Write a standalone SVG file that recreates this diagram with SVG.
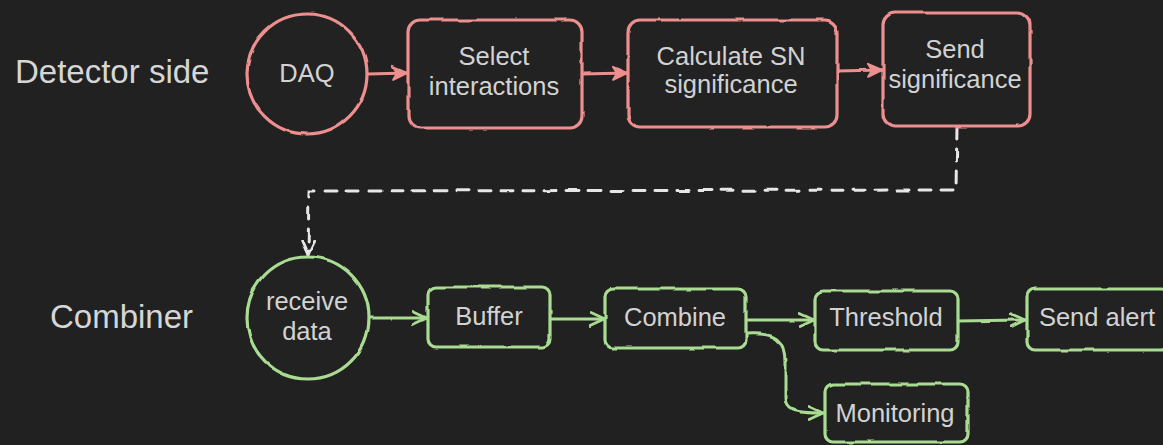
<svg xmlns="http://www.w3.org/2000/svg" width="1163" height="445" viewBox="0 0 1163 445">
  <defs>
    <style>
      .bg { fill: #212121; }
      .lane { font-family: "Liberation Sans", Arial, sans-serif; font-size: 33px; fill: #d6d6d6; }
      .lbl { font-family: "Liberation Sans", Arial, sans-serif; font-size: 25.5px; fill: #d2d2d2; text-anchor: middle; }
      .pink { fill: #212121; stroke: #ee8f8f; stroke-width: 3.2; }
      .green { fill: #212121; stroke: #a9dc92; stroke-width: 3.2; }
      .edge { fill: none; stroke-width: 3; stroke-linecap: round; stroke-linejoin: round; }
      .edge.p { stroke: #ee8f8f; marker-end: url(#ah-pink); }
      .edge.g { stroke: #a9dc92; marker-end: url(#ah-green); }
      .edge.w { stroke: #e6e6e6; stroke-dasharray: 12 10; marker-end: url(#ah-white); }
    </style>
    <!-- slight wobble for a hand-drawn stroke -->
    <filter id="rough" filterUnits="userSpaceOnUse" x="0" y="0" width="1163" height="445">
      <feTurbulence type="fractalNoise" baseFrequency="0.04" numOctaves="2" seed="3" result="n"/>
      <feDisplacementMap in="SourceGraphic" in2="n" scale="3" xChannelSelector="R" yChannelSelector="G"/>
    </filter>
    <marker id="ah-pink" viewBox="0 0 16 16" refX="15" refY="8" markerWidth="16" markerHeight="16" markerUnits="userSpaceOnUse" orient="auto">
      <path d="M1,1.5 L15,8 L1,14.5 L5,8 Z" fill="#ee8f8f" stroke="#ee8f8f" stroke-width="2" stroke-linejoin="round"/>
    </marker>
    <marker id="ah-green" viewBox="0 0 16 16" refX="15" refY="8" markerWidth="16" markerHeight="16" markerUnits="userSpaceOnUse" orient="auto">
      <path d="M1,1.5 L15,8 L1,14.5" fill="none" stroke="#a9dc92" stroke-width="2.8" stroke-linejoin="round" stroke-linecap="round"/>
    </marker>
    <marker id="ah-white" viewBox="0 0 16 16" refX="15" refY="8" markerWidth="16" markerHeight="16" markerUnits="userSpaceOnUse" orient="auto">
      <path d="M1,1.5 L15,8 L1,14.5" fill="none" stroke="#e6e6e6" stroke-width="2.8" stroke-linejoin="round" stroke-linecap="round"/>
    </marker>
  </defs>

  <rect class="bg" x="0" y="0" width="1163" height="445"/>

  <!-- lane titles -->
  <text class="lane" x="15" y="83">Detector side</text>
  <text class="lane" x="50" y="328">Combiner</text>

  <!-- connectors -->
  <g id="connectors" filter="url(#rough)">
    <path class="edge p" d="M368,74 L407,73"/>
    <path class="edge p" d="M582,74 L627,73"/>
    <path class="edge p" d="M837,71 L882,70"/>
    <path class="edge w" d="M957,127 L956,190 L309,191 L308,255"/>
    <path class="edge g" d="M369,318 L427,318"/>
    <path class="edge g" d="M550,319 L604,319"/>
    <path class="edge g" d="M746,320 L814,320"/>
    <path class="edge g" d="M958,321 L1025,320"/>
    <path class="edge g" d="M746,334 C776,332 785,340 785,362 L785,398 C785,410 792,413 823,413"/>
  </g>

  <!-- detector side -->
  <g id="daq">
    <circle class="pink" cx="307" cy="74" r="60" filter="url(#rough)"/>
    <text class="lbl" x="307" y="82">DAQ</text>
  </g>
  <g id="select-interactions">
    <rect class="pink" x="408" y="20" width="174" height="108" rx="12" filter="url(#rough)"/>
    <text class="lbl" x="494" y="65">Select</text>
    <text class="lbl" x="494" y="95">interactions</text>
  </g>
  <g id="calculate-significance">
    <rect class="pink" x="628" y="20" width="209" height="107" rx="12" filter="url(#rough)"/>
    <text class="lbl" x="731" y="65">Calculate SN</text>
    <text class="lbl" x="731" y="93">significance</text>
  </g>
  <g id="send-significance">
    <rect class="pink" x="883" y="13" width="147" height="113" rx="12" filter="url(#rough)"/>
    <text class="lbl" x="955" y="58">Send</text>
    <text class="lbl" x="955" y="88">significance</text>
  </g>

  <!-- combiner -->
  <g id="receive-data">
    <circle class="green" cx="308" cy="318" r="61" filter="url(#rough)"/>
    <text class="lbl" x="307" y="310">receive</text>
    <text class="lbl" x="307" y="340">data</text>
  </g>
  <g id="buffer">
    <rect class="green" x="428" y="287" width="122" height="60" rx="8" filter="url(#rough)"/>
    <text class="lbl" x="489" y="325">Buffer</text>
  </g>
  <g id="combine">
    <rect class="green" x="605" y="289" width="141" height="59" rx="8" filter="url(#rough)"/>
    <text class="lbl" x="675" y="326">Combine</text>
  </g>
  <g id="threshold">
    <rect class="green" x="815" y="291" width="143" height="59" rx="8" filter="url(#rough)"/>
    <text class="lbl" x="886" y="326">Threshold</text>
  </g>
  <g id="send-alert">
    <rect class="green" x="1027" y="289" width="142" height="61" rx="8" filter="url(#rough)"/>
    <text class="lbl" x="1097" y="326">Send alert</text>
  </g>
  <g id="monitoring">
    <rect class="green" x="825" y="384" width="143" height="58" rx="8" filter="url(#rough)"/>
    <text class="lbl" x="895" y="422">Monitoring</text>
  </g>
</svg>
